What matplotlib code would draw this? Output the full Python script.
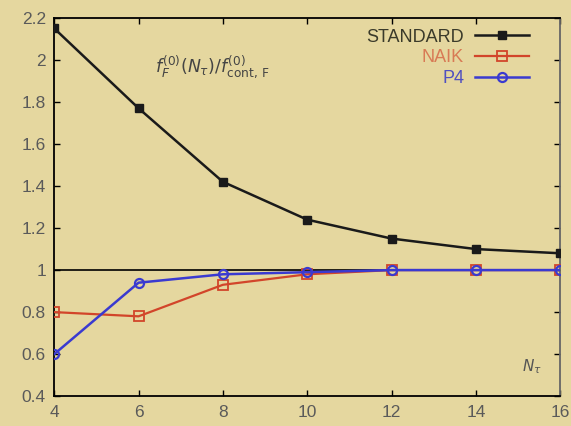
import numpy as np
import matplotlib
matplotlib.use("Agg")
import matplotlib.pyplot as plt

# data
nt = [4, 6, 8, 10, 12, 14, 16]
standard = [2.15, 1.77, 1.42, 1.24, 1.15, 1.10, 1.08]
naik = [0.80, 0.78, 0.93, 0.98, 1.00, 1.00, 1.00]
p4 = [0.60, 0.94, 0.98, 0.99, 1.00, 1.00, 1.00]

xticks = [4, 6, 8, 10, 12, 14, 16]
yticks = [0.4, 0.6, 0.8, 1, 1.2, 1.4, 1.6, 1.8, 2, 2.2]
ytick_labels = ["0.4", "0.6", "0.8", "1", "1.2", "1.4", "1.6", "1.8", "2", "2.2"]

bg = "#e5d79f"
plt.rcParams["font.family"] = ["Liberation Sans", "DejaVu Sans"]

fig = plt.figure(figsize=(5.71, 4.26), dpi=100)
fig.patch.set_facecolor(bg)
ax = fig.add_axes([0.095, 0.070, 0.886, 0.888])
ax.set_facecolor(bg)

ax.axhline(1.0, color="black", linewidth=1.2, zorder=1)

ax.plot(nt, standard, color="#1a1a1a", linewidth=1.8, marker="s", markersize=6,
        markerfacecolor="#1a1a1a", label="STANDARD", zorder=3)
ax.plot(nt, naik, color="#d2452a", linewidth=1.6, marker="s", markersize=6.5,
        markerfacecolor="none", markeredgewidth=1.3, label="NAIK", zorder=3)
ax.plot(nt, p4, color="#3a3ad0", linewidth=1.8, marker="o", markersize=6.5,
        markerfacecolor="none", markeredgewidth=1.6, label="P4", zorder=4)

ax.set_xlim(4, 16)
ax.set_ylim(0.4, 2.2)
ax.set_xticks(xticks)
ax.set_yticks(yticks)
ax.set_yticklabels(ytick_labels)
ax.tick_params(direction="in", top=True, right=True, length=4, width=1,
               labelsize=12.5, labelcolor="#5a5a5a", pad=6)

for s in ax.spines.values():
    s.set_linewidth(1.3)
ax.spines["right"].set_color("#666666")

leg = ax.legend(loc="upper right", frameon=False, markerfirst=False,
                fontsize=13, handlelength=3.0, handletextpad=0.6,
                borderaxespad=0.2, labelspacing=0.2, bbox_to_anchor=(0.96, 1.0))
for t, c in zip(leg.get_texts(), ["#3a3a2a", "#d87a55", "#5050c0"]):
    t.set_color(c)

ax.text(0.20, 0.855, r"$f_F^{(0)}(N_\tau)/f_{\mathrm{cont,\,F}}^{(0)}$", transform=ax.transAxes,
        fontsize=12.5, color="#444444")
ax.text(0.925, 0.065, r"$N_\tau$", transform=ax.transAxes, fontsize=11, color="#555555")

fig.savefig("out.png", dpi=100, facecolor=bg)
